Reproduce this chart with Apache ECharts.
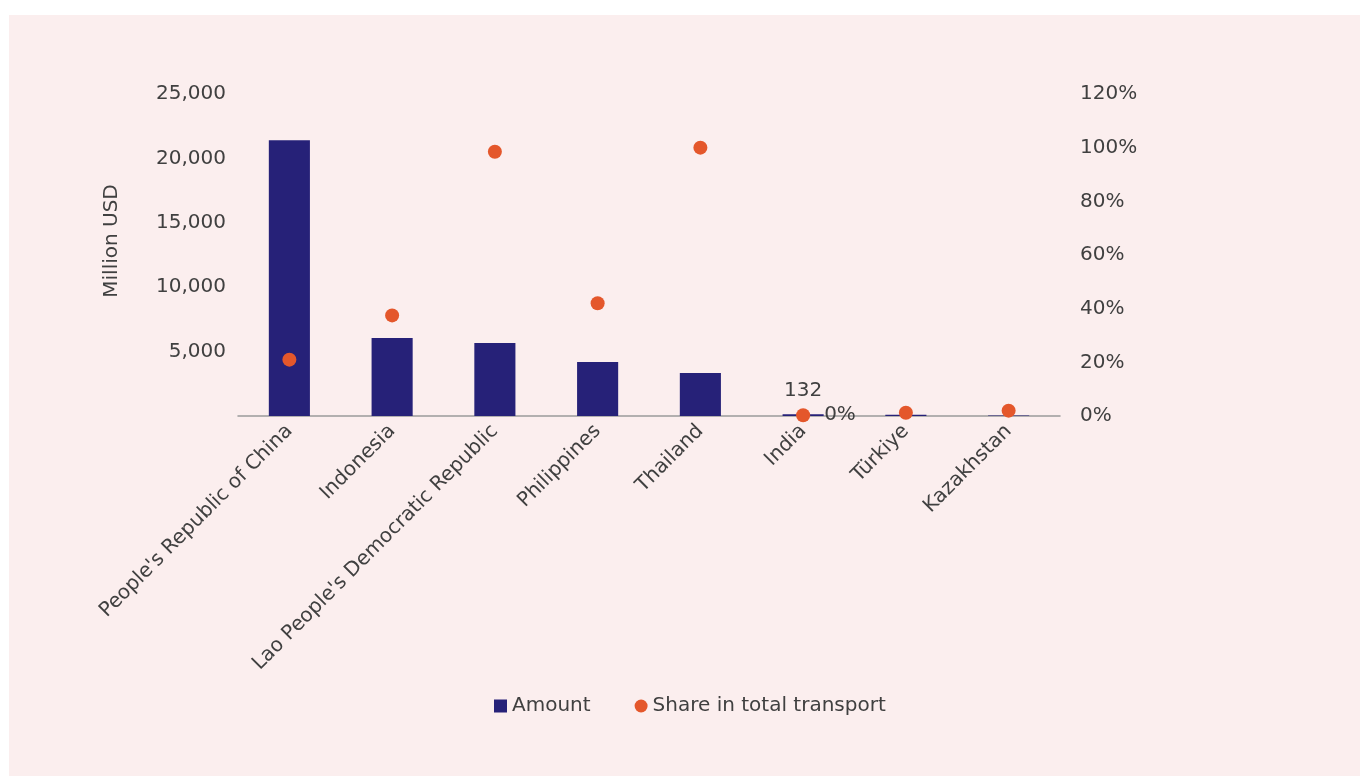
<!DOCTYPE html>
<html>
<head>
<meta charset="utf-8">
<script src="https://cdn.jsdelivr.net/npm/echarts@6/dist/echarts.min.js"></script>
<style>
  html, body { margin: 0; padding: 0; background: #ffffff; }
  #frame { position: absolute; left: 9px; top: 15px; right: 0; bottom: 0; background: #fbeeee; }
  #chart { position: absolute; left: 0; top: 0; width: 1360px; height: 776px; }
</style>
</head>
<body>
<div id="frame"></div>
<div id="chart"></div>
<script>
// Countries, amounts (million USD) and share in total transport (%)
const countries = [
  "People's Republic of China",
  'Indonesia',
  "Lao People's Democratic Republic",
  'Philippines',
  'Thailand',
  'India',
  'Türkiye',
  'Kazakhstan'
];
const amounts = [21400, 6050, 5670, 4190, 3340, 132, 90, 30];
const shares = [21, 37.5, 98.5, 42, 100, 0.3, 1.2, 2];

const leftTicks = { min: 0, max: 25000, interval: 5000 };
const rightTicks = { min: 0, max: 120, interval: 20 };

const FONT = '"DejaVu Sans", sans-serif';
const FS = 20;
const TEXT = '#404040';
const NAVY = '#262178';
const ORANGE = '#e4572b';

const barData = amounts.map((v, i) => countries[i] === 'India'
  ? { value: v, label: { show: true, position: 'top', distance: 14, color: TEXT, fontSize: FS, fontFamily: FONT } }
  : v);
const dotData = shares.map((v, i) => countries[i] === 'India'
  ? { value: v, label: { show: true, position: 'right', distance: 14, formatter: '0%', color: TEXT, fontSize: FS, fontFamily: FONT } }
  : v);

const chart = echarts.init(document.getElementById('chart'), null, { renderer: 'canvas' });
chart.setOption({
  backgroundColor: 'transparent',
  animation: false,
  textStyle: { fontFamily: FONT, color: TEXT },
  grid: { left: 238, right: 300, top: 94, bottom: 360, containLabel: false },
  legend: {
    top: 691,
    left: 489,
    itemGap: 44,
    itemWidth: 13,
    itemHeight: 13,
    textStyle: { fontSize: FS, color: TEXT, fontFamily: FONT },
    data: [
      { name: 'Amount', icon: 'rect' },
      { name: 'Share in total transport', icon: 'circle' }
    ]
  },
  xAxis: {
    type: 'category',
    data: countries,
    axisLine: { show: true, lineStyle: { color: '#9a9a9a', width: 1.5 } },
    axisTick: { show: false },
    axisLabel: { rotate: 45, interval: 0, fontSize: FS, color: TEXT, margin: 12, fontFamily: FONT }
  },
  yAxis: [
    {
      type: 'value',
      min: leftTicks.min, max: leftTicks.max, interval: leftTicks.interval,
      name: 'Million USD',
      nameLocation: 'middle',
      nameGap: 116,
      nameRotate: 90,
      nameTextStyle: { fontSize: FS, color: TEXT, fontFamily: FONT, padding: [0, 0, 0, 28] },
      axisLine: { show: false },
      axisTick: { show: false },
      splitLine: { show: false },
      axisLabel: {
        fontSize: FS, color: TEXT, margin: 12, fontFamily: FONT,
        formatter: v => v === 0 ? '' : v.toLocaleString('en-US')
      }
    },
    {
      type: 'value',
      min: rightTicks.min, max: rightTicks.max, interval: rightTicks.interval,
      axisLine: { show: false },
      axisTick: { show: false },
      splitLine: { show: false },
      axisLabel: { fontSize: FS, color: TEXT, margin: 20, fontFamily: FONT, formatter: '{value}%' }
    }
  ],
  series: [
    {
      name: 'Amount',
      type: 'bar',
      yAxisIndex: 0,
      barWidth: '40%',
      itemStyle: { color: NAVY },
      data: barData
    },
    {
      name: 'Share in total transport',
      type: 'scatter',
      yAxisIndex: 1,
      symbolSize: 14,
      itemStyle: { color: ORANGE, opacity: 1 },
      data: dotData,
      z: 3
    }
  ]
});
</script>
</body>
</html>
